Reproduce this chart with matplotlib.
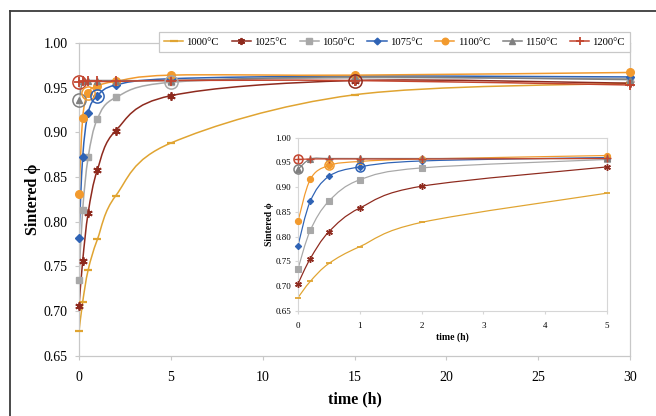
import numpy as np
import matplotlib
matplotlib.use("Agg")
import matplotlib.pyplot as plt
from matplotlib.path import Path
from matplotlib.patches import PathPatch, Rectangle
from matplotlib.lines import Line2D

plt.rcParams['font.family'] = ['Liberation Serif', 'DejaVu Serif']

# ---------------- data ----------------
time_h = [0, 0.2, 0.5, 1, 2, 5, 15, 30]
labels = ['1000°C', '1025°C', '1050°C', '1075°C', '1100°C', '1150°C', '1200°C']
phi_1000 = [0.677, 0.710, 0.746, 0.780, 0.829, 0.888, 0.942, 0.955]
phi_1025 = [0.705, 0.756, 0.810, 0.858, 0.902, 0.941, 0.958, 0.955]
phi_1050 = [0.735, 0.813, 0.872, 0.915, 0.939, 0.956, 0.961, 0.960]
phi_1075 = [0.782, 0.872, 0.922, 0.941, 0.953, 0.960, 0.963, 0.962]
phi_1100 = [0.831, 0.916, 0.944, 0.952, 0.957, 0.964, 0.964, 0.967]
phi_1150 = [0.936, 0.957, 0.958, 0.958, 0.958, 0.958, 0.962, 0.959]
phi_1200 = [0.956, 0.957, 0.957, 0.957, 0.957, 0.958, 0.958, 0.953]
series = [phi_1000, phi_1025, phi_1050, phi_1075, phi_1100, phi_1150, phi_1200]

# highlighted points (series index, time index)
main_highlights = [(6, 0), (5, 0), (4, 2), (3, 3), (2, 5), (1, 6)]
inset_highlights = [(6, 0), (5, 0), (4, 2), (3, 3)]

x_ticks = [0, 5, 10, 15, 20, 25, 30]
y_ticks = [0.65, 0.70, 0.75, 0.80, 0.85, 0.90, 0.95, 1.00]
inset_x_ticks = [0, 1, 2, 3, 4, 5]

# ---------------- styles ----------------
colors = ['#E0A431', '#8E2A1E', '#A8A8A8', '#2F63B5', '#F29A2E', '#808080', '#C3452F']
markers = ['_', (6, 2, 0), 's', 'D', 'o', '^', '+']
msizes = [6, 6, 5, 4, 5.5, 5, 7]
mews = [1.6, 1.3, 1, 1, 1, 1, 1.3]


def smooth_path(x, y):
    pts = np.column_stack([x, y]).astype(float)
    n = len(pts)
    verts = [pts[0]]
    codes = [Path.MOVETO]
    for i in range(n - 1):
        p0 = pts[i - 1] if i > 0 else pts[i]
        p1 = pts[i]
        p2 = pts[i + 1]
        p3 = pts[i + 2] if i + 2 < n else pts[i + 1]
        c1 = p1 + (p2 - p0) / 6.0
        c2 = p2 - (p3 - p1) / 6.0
        verts += [c1, c2, p2]
        codes += [Path.CURVE4] * 3
    return Path(verts, codes)


def draw_series(ax, t, data_list, scale, highlights, circ_size):
    for i, ys in enumerate(data_list):
        patch = PathPatch(smooth_path(t, ys), facecolor='none', edgecolor=colors[i],
                          lw=1.1 * scale, zorder=2 + i * 0.1)
        ax.add_patch(patch)
        ax.plot(t, ys, linestyle='none', marker=markers[i], color=colors[i],
                markersize=msizes[i] * scale, mew=mews[i] * scale, zorder=3 + i * 0.1,
                clip_on=False)
    for si, ti in highlights:
        ax.plot([t[ti]], [data_list[si][ti]], linestyle='none', marker='o', mfc='none',
                mec=colors[si], markersize=circ_size, mew=1.1, zorder=5, clip_on=False)


fig = plt.figure(figsize=(6.56, 4.16), dpi=100)
W, H = 656.0, 416.0

# outer frame (left & top visible)
fig.add_artist(Line2D([10 / W, 10 / W], [0, 1 - 11 / H], transform=fig.transFigure,
                      color='#3c3c3c', lw=1.3))
fig.add_artist(Line2D([10 / W, 1], [1 - 11 / H, 1 - 11 / H], transform=fig.transFigure,
                      color='#3c3c3c', lw=1.3))

spine_c = '#C8C8C8'

# ---------------- main axes ----------------
ax = fig.add_axes([79 / W, 1 - 355.6 / H, (630 - 79) / W, (355.6 - 43) / H])
ax.set_zorder(0)
draw_series(ax, time_h, series, 1.0, main_highlights, 9.5)
ax.set_xlim(0, 30)
ax.set_ylim(0.65, 1.00)
ax.set_xticks(x_ticks)
ax.set_xticklabels([str(v) for v in x_ticks])
ax.set_yticks(y_ticks)
ax.set_yticklabels(['%.2f' % v for v in y_ticks])
for sp in ax.spines.values():
    sp.set_color(spine_c)
    sp.set_linewidth(0.9)
ax.tick_params(axis='both', direction='out', length=3, color=spine_c, labelsize=10)
ax.tick_params(axis='x', pad=8)
ax.tick_params(axis='y', pad=5)
ax.set_xlabel('time (h)', fontsize=11.5, fontweight='bold')
ax.set_ylabel('Sintered ϕ', fontsize=11.5, fontweight='bold')
ax.xaxis.set_label_coords(0.5, (355.6 - 399) / 312.6)
ax.xaxis.label.set_va('center')
ax.yaxis.set_label_coords((33 - 79) / 551.0, 0.5)
ax.yaxis.label.set_va('center')

# legend
handles = [Line2D([0], [0], color=colors[i], lw=1.1, marker=markers[i],
                  markersize=msizes[i] * 0.85, mew=mews[i]) for i in range(7)]
leg = ax.legend(handles, labels, ncol=7, loc='center',
                bbox_to_anchor=(394.5 / W, 1 - 42 / H), bbox_transform=fig.transFigure,
                fontsize=7.7, handlelength=1.8, handletextpad=0.3, columnspacing=1.2,
                borderpad=0.45, frameon=True, fancybox=False, framealpha=1)
leg.get_frame().set_edgecolor(spine_c)
leg.get_frame().set_linewidth(0.9)

# inset background
fig.add_artist(Rectangle((258 / W, 1 - 348 / H), 358 / W, 222 / H, transform=fig.transFigure,
                         facecolor='white', edgecolor='none', zorder=0.5))

# ---------------- inset axes ----------------
axi = fig.add_axes([298 / W, 1 - 311 / H, 309 / W, (311 - 137.7) / H])
axi.set_zorder(1)
t_in = [v for v in time_h if v <= 5]
n_in = len(t_in)
draw_series(axi, t_in, [s[:n_in] for s in series], 0.8, inset_highlights, 6.5)
axi.set_xlim(0, 5)
axi.set_ylim(0.65, 1.00)
axi.set_xticks(inset_x_ticks)
axi.set_xticklabels([str(v) for v in inset_x_ticks])
axi.set_yticks(y_ticks)
axi.set_yticklabels(['%.2f' % v for v in y_ticks])
for sp in axi.spines.values():
    sp.set_color('#D6D6D6')
    sp.set_linewidth(0.8)
axi.tick_params(axis='both', direction='out', length=2, color='#D6D6D6', labelsize=6.5)
axi.tick_params(axis='x', pad=6)
axi.tick_params(axis='y', pad=3)
axi.set_xlabel('time (h)', fontsize=7, fontweight='bold')
axi.set_ylabel('Sintered ϕ', fontsize=7, fontweight='bold')
axi.xaxis.set_label_coords(0.5, -(336.7 - 311) / 173.3)
axi.xaxis.label.set_va('center')
axi.yaxis.set_label_coords((270 - 298) / 309.0, 0.5)
axi.yaxis.label.set_va('center')

fig.savefig('out.png', dpi=100)
